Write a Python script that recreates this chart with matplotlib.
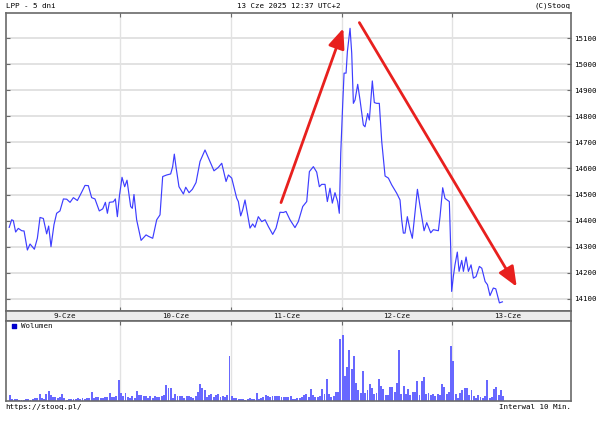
import matplotlib
matplotlib.use("Agg")
import matplotlib.pyplot as plt
import numpy as np

# day labels and trading-day layout (49 ten-minute slots per session, 9:00-17:00)
days = ['9-Cze', '10-Cze', '11-Cze', '12-Cze', '13-Cze']
slots_per_day = 49

# price line, time in days since 9-Cze 9:00
t_price = [0.00, 0.022, 0.037, 0.058, 0.082, 0.113, 0.134, 0.164, 0.188, 0.227,
           0.254, 0.278, 0.308, 0.338, 0.356, 0.377, 0.404, 0.428, 0.458, 0.489,
           0.519, 0.549, 0.579, 0.615, 0.654, 0.684, 0.714, 0.744, 0.774, 0.813,
           0.844, 0.868, 0.886, 0.904, 0.940, 0.958, 0.976, 0.994,
           1.018, 1.042, 1.063, 1.096, 1.111, 1.126, 1.150, 1.190, 1.235, 1.259,
           1.295, 1.331, 1.361, 1.385, 1.421, 1.457, 1.475, 1.490, 1.505, 1.532,
           1.572, 1.593, 1.623, 1.653, 1.686, 1.722, 1.767, 1.806, 1.848, 1.887,
           1.918, 1.957, 1.978,
           2.008, 2.053, 2.068, 2.089, 2.107, 2.128, 2.149, 2.173, 2.197, 2.218,
           2.248, 2.279, 2.309, 2.339, 2.378, 2.408, 2.444, 2.474, 2.498, 2.534,
           2.579, 2.609, 2.649, 2.685, 2.709, 2.745, 2.775, 2.799, 2.820, 2.850,
           2.871, 2.895, 2.916, 2.940, 2.964, 2.979,
           2.992, 3.010, 3.022, 3.040, 3.052, 3.076, 3.091, 3.106, 3.121, 3.145,
           3.166, 3.196, 3.211, 3.235, 3.250, 3.277, 3.295, 3.316, 3.340, 3.362,
           3.392, 3.422, 3.452, 3.497, 3.527, 3.542, 3.557, 3.572, 3.593, 3.617,
           3.638, 3.662, 3.684, 3.708, 3.744, 3.768, 3.804, 3.828, 3.873, 3.888,
           3.912, 3.933, 3.972, 3.984, 3.993,
           4.008, 4.023, 4.044, 4.060, 4.084, 4.099, 4.123, 4.144, 4.168, 4.189,
           4.213, 4.243, 4.265, 4.295, 4.316, 4.339, 4.369, 4.391, 4.424, 4.451]
price = [14374, 14403, 14400, 14356, 14370, 14361, 14360, 14287, 14310, 14290,
         14332, 14412, 14408, 14349, 14379, 14300, 14384, 14428, 14437, 14483,
         14482, 14470, 14488, 14477, 14509, 14535, 14534, 14488, 14483, 14437,
         14445, 14470, 14428, 14470, 14472, 14483, 14415, 14492,
         14566, 14530, 14555, 14454, 14447, 14500, 14403, 14324, 14345, 14339,
         14332, 14403, 14422, 14569, 14575, 14579, 14607, 14655, 14607, 14530,
         14502, 14528, 14507, 14520, 14546, 14627, 14671, 14632, 14591, 14604,
         14620, 14550, 14575,
         14563, 14486, 14473, 14418, 14441, 14479, 14428, 14371, 14387, 14374,
         14415, 14396, 14403, 14377, 14347, 14371, 14432, 14431, 14435, 14403,
         14373, 14396, 14454, 14473, 14588, 14607, 14586, 14530, 14539, 14539,
         14473, 14524, 14467, 14507, 14473, 14428,
         14659, 14850, 14966, 14966, 15049, 15138, 15043, 14850, 14863, 14923,
         14863, 14767, 14760, 14811, 14786, 14936, 14853, 14850, 14850, 14703,
         14571, 14563, 14537, 14505, 14479, 14403, 14352, 14352, 14415, 14365,
         14332, 14428, 14520, 14454, 14361, 14392, 14353, 14365, 14361, 14415,
         14526, 14485, 14473, 14300, 14128,
         14185, 14230, 14279, 14205, 14247, 14205, 14260, 14205, 14230, 14179,
         14185, 14224, 14217, 14166, 14154, 14112, 14141, 14138, 14084, 14088]

# volume per 10-min slot, one list per day (relative units)
vol_d1 = [6, 2, 2, 1.5, 1, 0.7, 1, 1.5, 1.5, 1, 1.5, 2.5, 3, 7, 3, 2, 7, 10, 6, 4,
          4, 2.5, 4, 7, 3, 1, 1.5, 1.5, 2, 2, 3, 1.5, 3, 2, 3, 2.5, 9, 3, 4, 4,
          2.5, 3, 4, 4, 8, 4, 4, 5, 21]
vol_d2 = [8, 5, 8, 4, 3, 5, 3, 10, 6, 6, 5, 5, 2.5, 5, 3, 5, 4, 4, 5, 6,
          16, 13, 13, 3, 7, 5, 5, 5, 3, 5, 5, 4, 3, 5, 9, 17, 13, 11, 4, 6,
          7, 4, 6, 7, 4, 5, 4, 6, 45]
vol_d3 = [5, 3, 3, 2, 1.5, 1.5, 1, 1.5, 3, 2, 1.5, 8, 2, 3, 4, 6, 5, 4, 5, 5,
          5, 5, 4, 4, 4, 4, 5, 2, 2, 2.5, 3, 3.7, 6, 7, 4, 12, 6, 4, 4, 5,
          12, 7, 22, 7, 4, 5, 9, 9, 62]
vol_d4 = [66, 25, 34, 51, 32, 45, 18, 11, 8, 30, 8, 11, 17, 13, 7, 8, 22, 15, 12, 6,
          6, 14, 14, 9, 18, 51, 7, 15, 7, 12, 6, 9, 9, 20, 6, 20, 24, 7, 8, 6,
          7, 5, 7, 6, 17, 14, 7, 9, 55]
vol_d5 = [40, 7, 3, 8, 11, 13, 13, 6, 11, 5, 3, 6, 4, 3, 5, 21, 3, 4, 12, 14,
          6, 11, 5]

y_ticks = [14100, 14200, 14300, 14400, 14500, 14600, 14700, 14800, 14900, 15000, 15100]

# red trend arrows (start, tip) in (days, price)
arrow_up = [(2.453, 14469), (3.015, 15138)]
arrow_down = [(3.160, 15160), (4.580, 14146)]

vol_days = [vol_d1, vol_d2, vol_d3, vol_d4, vol_d5]
t_vol, vol = [], []
for d, vals in enumerate(vol_days):
    for k, v in enumerate(vals):
        t_vol.append(d + k / slots_per_day)
        vol.append(v)

W, H = 605, 425
fig = plt.figure(figsize=(W / 100, H / 100), dpi=100)
mono = 'DejaVu Sans Mono'
fs = 5.4
border = '#6a6a6a'
grid = '#e2e2e2'
x0, x1 = -0.029, 5.07
bounds = list(range(1, len(days)))


def px(l, t, r, b):
    return [l / W, 1 - b / H, (r - l) / W, (b - t) / H]


ax = fig.add_axes(px(6, 12.7, 571, 310.7))
ax.set_xlim(x0, x1)
ax.set_ylim(14054, 15198)
ax.set_yticks(y_ticks)
for y in y_ticks:
    ax.axhline(y, color=grid, lw=1.4, zorder=0)
for b in bounds:
    ax.axvline(b, color=grid, lw=1.0, zorder=0)
ax.plot(t_price, price, color='#3d3dff', lw=0.85)
for (s, e) in [arrow_up, arrow_down]:
    ax.annotate('', xy=e, xytext=s,
                arrowprops=dict(arrowstyle='-|>,head_length=1.2,head_width=0.5',
                                color='#e8201e', lw=2.0, shrinkA=0, shrinkB=0))
ax.set_xticks(bounds)
ax.tick_params(axis='x', direction='in', length=3, top=True, bottom=True,
               labelbottom=False, color=border)
ax.tick_params(axis='y', direction='in', length=3, left=True, right=True,
               labelleft=False, labelright=True, color=border,
               labelsize=fs, pad=2)
for lab in ax.get_yticklabels():
    lab.set_fontfamily(mono)
for sp in ax.spines.values():
    sp.set_color(border)
    sp.set_linewidth(1.2)

# date band
axd = fig.add_axes(px(6, 310.7, 571, 320.7))
axd.set_xlim(x0, x1)
axd.set_ylim(0, 1)
axd.set_facecolor('#ececec')
axd.set_xticks([])
axd.set_yticks([])
for i, name in enumerate(days):
    axd.text(i + 0.5, 0.45, name, ha='center', va='center', fontsize=fs,
             family=mono, color='#111111')
for sp in axd.spines.values():
    sp.set_color(border)
    sp.set_linewidth(1.2)

# volume panel
axv = fig.add_axes(px(6, 320.7, 571, 400.5))
axv.set_xlim(x0, x1)
axv.set_ylim(0, 80)
for b in bounds:
    axv.axvline(b, color=grid, lw=1.0, zorder=0)
axv.bar(t_vol, vol, width=0.85 / slots_per_day, align='edge',
        color='#6868ff', linewidth=0)
axv.set_xticks(bounds)
axv.set_yticks([])
axv.tick_params(axis='x', direction='in', length=3, top=True, bottom=False,
                labelbottom=False, color=border)
for sp in axv.spines.values():
    sp.set_color(border)
    sp.set_linewidth(1.2)
axv.scatter([0.045], [74.5], marker='s', s=11, color='#0000cc')
axv.text(0.11, 74.5, 'Wolumen', fontsize=fs, family=mono, va='center',
         color='#111111')

# header / footer texts
fig.text(6 / W, 1 - 6 / H, 'LPP - 5 dni', fontsize=fs, family=mono, va='center')
fig.text(289 / W, 1 - 6 / H, '13 Cze 2025 12:37 UTC+2', fontsize=fs, family=mono,
         va='center', ha='center')
fig.text(571 / W, 1 - 6 / H, '(C)Stooq', fontsize=fs, family=mono, va='center',
         ha='right')
fig.text(5 / W, 1 - 407 / H, 'https://stooq.pl/', fontsize=fs, family=mono,
         va='center')
fig.text(571 / W, 1 - 407 / H, 'Interwal 10 Min.', fontsize=fs, family=mono,
         va='center', ha='right')

fig.savefig('out.png', dpi=100)
